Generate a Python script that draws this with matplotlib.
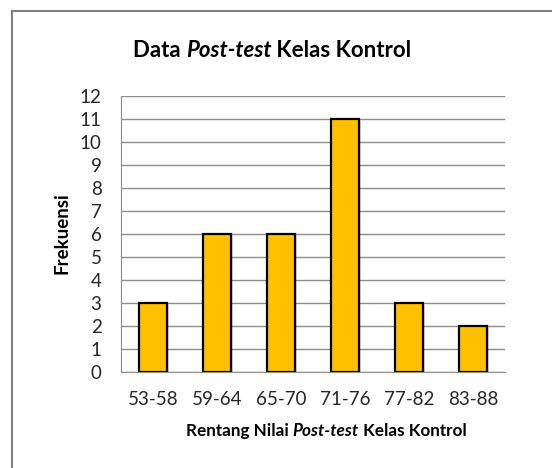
import matplotlib.pyplot as plt
import matplotlib.patheffects as pe
from matplotlib.lines import Line2D

# data
categories = ['53-58', '59-64', '65-70', '71-76', '77-82', '83-88']
frequencies = [3, 6, 6, 11, 3, 2]
y_ticks = list(range(0, 13))

plt.rcParams['font.family'] = ['Lato', 'DejaVu Sans']

fig = plt.figure(figsize=(5.52, 4.68), dpi=100)
W, H = 552, 468
ax = fig.add_axes([121 / W, 1 - 372 / H, (505 - 121) / W, (372 - 96) / H])

x = range(len(categories))
bars = ax.bar(x, frequencies, width=0.44, color='#FFC000', edgecolor='black',
              linewidth=1.6, zorder=3)
for b in bars:
    b.set_path_effects([pe.SimplePatchShadow(offset=(1.5, -1.5), alpha=0.18),
                        pe.Normal()])

ax.set_xlim(-0.5, len(categories) - 0.5)
ax.set_ylim(0, 12)
ax.set_yticks(y_ticks)
ax.set_xticks(list(x))
ax.set_xticklabels(categories)
ax.tick_params(axis='both', length=0, labelsize=13.5, colors='#262626')
ax.tick_params(axis='x', pad=14)
ax.tick_params(axis='y', pad=14)

ax.grid(axis='y', color='#8c8c8c', linewidth=1, zorder=0)
for side in ['top', 'right']:
    ax.spines[side].set_visible(False)
ax.spines['left'].set_color('#8c8c8c')
ax.spines['bottom'].set_color('#8c8c8c')


def place_row(center_x, y, parts, size):
    # lay out text pieces side by side, each with its own style, centred on center_x
    renderer = fig.canvas.get_renderer()
    texts = []
    for txt, style in parts:
        t = fig.text(0, y, txt, fontsize=size, fontweight='bold',
                     fontstyle=style, ha='left', va='baseline')
        texts.append(t)
    widths = [t.get_window_extent(renderer).width / fig.bbox.width for t in texts]
    cur = center_x - sum(widths) / 2
    for t, w in zip(texts, widths):
        t.set_x(cur)
        cur += w


place_row(272 / W, 1 - 57 / H,
          [('Data ', 'normal'), ('Post-test', 'italic'), (' Kelas Kontrol', 'normal')], 16)
place_row(326 / W, 1 - 436 / H,
          [('Rentang Nilai ', 'normal'), ('Post-test', 'italic'), (' Kelas Kontrol', 'normal')], 12.3)
fig.text(62 / W, 1 - 233 / H, 'Frekuensi', rotation=90,
         ha='center', va='center', fontsize=13.5, fontweight='bold')

# outer chart border (only top and left edges fall inside the picture)
fig.add_artist(Line2D([12 / W, 1], [1 - 11 / H, 1 - 11 / H], color='#808080', linewidth=1.5))
fig.add_artist(Line2D([12 / W, 12 / W], [0, 1 - 11 / H], color='#808080', linewidth=1.5))

fig.savefig('out.png', dpi=100)
